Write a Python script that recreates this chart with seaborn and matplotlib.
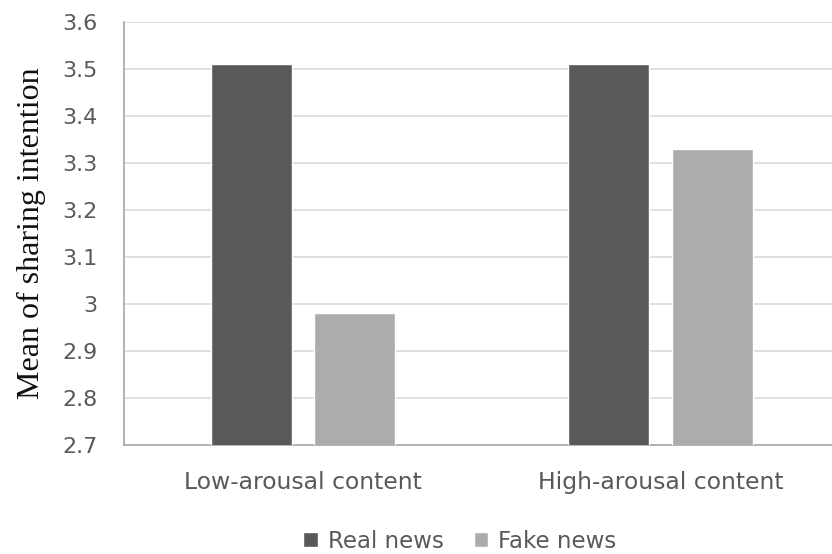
import matplotlib
matplotlib.use("Agg")
import matplotlib.pyplot as plt
import seaborn as sns
import pandas as pd

categories = ["Low-arousal content", "High-arousal content"]
series = ["Real news", "Fake news"]
real_values = [3.51, 3.51]
fake_values = [2.98, 3.33]
y_ticks = [2.7, 2.8, 2.9, 3.0, 3.1, 3.2, 3.3, 3.4, 3.5, 3.6]
y_tick_labels = ["2.7", "2.8", "2.9", "3", "3.1", "3.2", "3.3", "3.4", "3.5", "3.6"]

df = pd.DataFrame({
    "category": categories * 2,
    "series": [series[0]] * 2 + [series[1]] * 2,
    "value": real_values + fake_values,
})

sns.set_style("white")
plt.rcParams["font.family"] = ["DejaVu Sans"]

fig = plt.figure(figsize=(8.32, 5.54), dpi=100)
ax = fig.add_axes([124 / 832, 1 - 445 / 554, (832 - 124) / 832, (445 - 22) / 554])

palette = {"Real news": "#595959", "Fake news": "#AEABAB"}
sns.barplot(data=df, x="category", y="value", hue="series", order=categories,
            hue_order=series, palette=palette, width=0.579, gap=0.217,
            saturation=1, ax=ax, zorder=3)

ax.set_ylim(2.7, 3.6)
ax.set_xlim(-0.5, 1.48)
ax.set_yticks(y_ticks)
ax.set_yticklabels(y_tick_labels)
ax.yaxis.grid(True, color="#d9d9d9", linewidth=1.2, zorder=0)
ax.set_axisbelow(True)
ax.tick_params(axis="y", length=0, pad=19, labelsize=16, labelcolor="#595959")
ax.tick_params(axis="x", length=0, pad=18.4, labelsize=16.9, labelcolor="#595959")
ax.set_xlabel("")
ax.set_ylabel("Mean of sharing intention", family="Liberation Serif", fontsize=23,
              color="#111111", labelpad=12)
for s in ["top", "right"]:
    ax.spines[s].set_visible(False)
ax.spines["left"].set_color("#a6a6a6")
ax.spines["bottom"].set_color("#a6a6a6")
ax.spines["left"].set_linewidth(1.2)
ax.spines["bottom"].set_linewidth(1.2)

leg = ax.legend(loc="center", bbox_to_anchor=(0.4746, -0.228), ncol=2, frameon=False,
                fontsize=16.5, handlelength=0.64, handleheight=0.64, handletextpad=0.44,
                columnspacing=1.3, borderpad=0.2)
for t in leg.get_texts():
    t.set_color("#595959")

fig.savefig("out.png", dpi=100)
